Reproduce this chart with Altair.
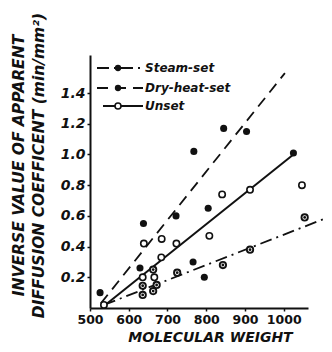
import altair as alt
import pandas as pd

# ---- data ----
dry_x = [526, 638, 722, 768, 805, 845, 904, 1025, 629, 766, 795]
dry_y = [0.10, 0.55, 0.60, 1.02, 0.65, 1.17, 1.15, 1.01, 0.26, 0.30, 0.20]

unset_x = [536, 636, 666, 639, 685, 684, 723, 808, 841, 913, 1047]
unset_y = [0.02, 0.20, 0.20, 0.42, 0.45, 0.33, 0.42, 0.47, 0.74, 0.77, 0.80]

steam_x = [636, 663, 636, 672, 663, 725, 843, 913, 1054]
steam_y = [0.085, 0.11, 0.145, 0.15, 0.25, 0.23, 0.28, 0.38, 0.59]

# fitted lines (end points)
dry_line_x = [528, 1003]
dry_line_y = [0.03, 1.53]
unset_line_x = [536, 1025]
unset_line_y = [0.013, 1.0]
steam_line_x = [536, 1124]
steam_line_y = [0.02, 0.60]

series = ["Steam-set", "Dry-heat-set", "Unset"]
x_ticks = [500, 600, 700, 800, 900, 1000]
y_ticks = [0.2, 0.4, 0.6, 0.8, 1.0, 1.2, 1.4]

dry = pd.DataFrame({"M": dry_x, "v": dry_y})
unset = pd.DataFrame({"M": unset_x, "v": unset_y})
steam = pd.DataFrame({"M": steam_x, "v": steam_y})
dry_l = pd.DataFrame({"M": dry_line_x, "v": dry_line_y})
unset_l = pd.DataFrame({"M": unset_line_x, "v": unset_line_y})
steam_l = pd.DataFrame({"M": steam_line_x, "v": steam_line_y})

FONT = "DejaVu Sans"
INK = "#111111"

xs = alt.Scale(domain=[500, 1062.6], nice=False, zero=False)
ys = alt.Scale(domain=[0, 1.648], nice=False, zero=False)

X = alt.X("M:Q", scale=xs, axis=alt.Axis(
    values=x_ticks, format="d", title="MOLECULAR WEIGHT",
    labelFontSize=12.5, labelFontWeight="bold", labelPadding=2,
    labelOverlap=False, labelFlush=False,
    titleFontSize=14, titleFontWeight="bold", titleFontStyle="italic",
    titleX=120, titleY=33, titleBaseline="alphabetic", titleAlign="center"))
Y = alt.Y("v:Q", scale=ys, axis=alt.Axis(
    values=y_ticks, format=".1f",
    title=["INVERSE VALUE OF APPARENT", "DIFFUSION COEFFICENT (min/mm²)"],
    labelFontSize=14, labelFontWeight="bold", labelFontStyle="italic",
    labelOverlap=False, labelFlush=False,
    titleFontSize=15.5, titleFontWeight="bold", titleFontStyle="italic",
    titleLineHeight=20, titleAngle=270, titleX=-79, titleY=110,
    titleAlign="center", titleBaseline="top"))

dash_long = [11, 7]
dash_dot = [12, 5, 2, 5]

l_dry = alt.Chart(dry_l).mark_line(color=INK, strokeWidth=1.8, strokeDash=dash_long).encode(x=X, y=Y)
l_unset = alt.Chart(unset_l).mark_line(color=INK, strokeWidth=2).encode(x="M:Q", y="v:Q")
l_steam = alt.Chart(steam_l).mark_line(color=INK, strokeWidth=1.8, strokeDash=dash_dot).encode(x="M:Q", y="v:Q")

p_dry = alt.Chart(dry).mark_circle(color=INK, size=50, opacity=1).encode(x="M:Q", y="v:Q")
p_unset = alt.Chart(unset).mark_point(shape="circle", filled=True, fill="white", stroke=INK,
                                      strokeWidth=1.6, size=40, opacity=1).encode(x="M:Q", y="v:Q")
p_steam = alt.Chart(steam).mark_point(shape="circle", filled=True, fill="white", stroke=INK,
                                      strokeWidth=1.9, size=40, opacity=1).encode(x="M:Q", y="v:Q")
p_steam_c = alt.Chart(steam).mark_circle(color=INK, size=8, opacity=1).encode(x="M:Q", y="v:Q")

# ---- hand-made legend ----
leg_rows = [13, 33, 51]
leg_dash = [dash_dot, dash_long, None]
legend_layers = []
for name, yy, dash in zip(series, leg_rows, leg_dash):
    src = alt.Data(values=[{"label": name}])
    rule_kw = dict(color=INK, strokeWidth=1.8)
    if dash is not None:
        rule_kw["strokeDash"] = dash
    x0 = 7 if dash is not None else 13
    legend_layers.append(alt.Chart(src).mark_rule(**rule_kw).encode(
        x=alt.value(x0), x2=alt.value(53), y=alt.value(yy)))
    if dash is None:
        legend_layers.append(alt.Chart(src).mark_point(
            shape="circle", filled=True, fill="white", stroke=INK, strokeWidth=1.6,
            size=36, opacity=1).encode(x=alt.value(28), y=alt.value(yy)))
    else:
        legend_layers.append(alt.Chart(src).mark_circle(color=INK, size=40, opacity=1).encode(
            x=alt.value(28), y=alt.value(yy)))
    legend_layers.append(alt.Chart(src).mark_text(
        align="left", baseline="middle", font=FONT, fontSize=12, fontWeight="bold",
        fontStyle="italic", color=INK).encode(
        x=alt.value(55), y=alt.value(yy), text="label:N"))

chart = alt.layer(l_dry, l_unset, l_steam, p_dry, p_unset, p_steam, p_steam_c,
                  *legend_layers).properties(
    width=218, height=253,
    padding={"left": 82, "top": 47, "right": 16, "bottom": 36},
    autosize=alt.AutoSizeParams(type="none"),
    background="white",
).configure_view(stroke=None).configure_axis(
    grid=False, domainColor=INK, domainWidth=2, tickColor=INK, tickSize=3, tickWidth=1.5,
    labelColor=INK, titleColor=INK, labelFont=FONT, titleFont=FONT,
)

chart.save("out.html", embed_options={"renderer": "svg", "actions": False})
